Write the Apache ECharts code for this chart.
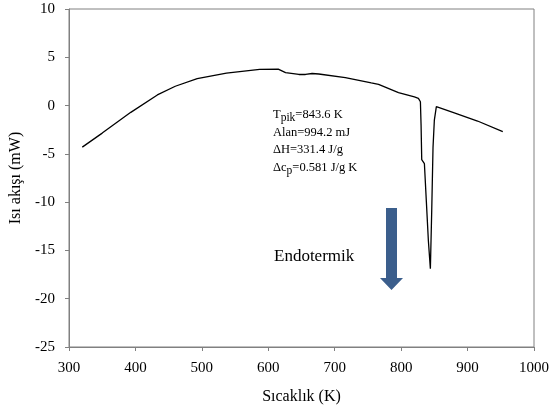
<!DOCTYPE html>
<html>
<head>
	<meta charset="utf-8">
	<script src="https://cdn.jsdelivr.net/npm/echarts@6/dist/echarts.min.js"></script>
</head>
<body style="margin:0;">
	<div id="main" style="width:552px;height:412px;"></div>
	<script type="text/javascript">
        // DSC egrisi: sicaklik (K) ve isi akisi (mW)
        var sicaklik = [320, 350, 393, 433, 460, 493, 537, 587, 615, 626, 646, 656, 666, 676, 716, 755, 766, 796, 820, 826, 829, 830, 831, 835, 838, 841, 844, 846, 848, 850, 853, 880, 915, 953];
        var isiAkisi = [-4.3, -2.85, -0.7, 1.1, 2.0, 2.8, 3.35, 3.75, 3.78, 3.42, 3.22, 3.22, 3.32, 3.27, 2.9, 2.35, 2.2, 1.35, 0.9, 0.75, 0.4, -2.0, -5.6, -6.0, -10.0, -14.0, -16.9, -11.0, -4.3, -1.5, -0.1, -0.75, -1.6, -2.7];
        var xTicks = [300, 1000, 100];
        var yTicks = [-25, 10, 5];

        var veri = sicaklik.map(function (t, i) { return [t, isiAkisi[i]]; });
        var font = 'Liberation Serif';

        var myChart = echarts.init(document.getElementById('main'));
        var option = {
        	animation: false,
        	grid: {
        		left: 68, right: 15, top: 9, bottom: 65,
        		show: true, borderColor: '#808080', borderWidth: 1
        	},
        	xAxis: {
        		type: 'value',
        		min: xTicks[0], max: xTicks[1], interval: xTicks[2],
        		name: 'Sıcaklık (K)', nameLocation: 'middle', nameGap: 42,
        		nameTextStyle: { fontFamily: font, fontSize: 16, color: '#000' },
        		axisLine: { onZero: false, lineStyle: { color: '#808080' } },
        		axisTick: { show: true, length: 4, lineStyle: { color: '#808080' } },
        		axisLabel: { fontFamily: font, fontSize: 15, color: '#000', margin: 14,
        			formatter: function (v) { return String(v); } },
        		splitLine: { show: false }
        	},
        	yAxis: {
        		type: 'value',
        		min: yTicks[0], max: yTicks[1], interval: yTicks[2],
        		name: 'Isı akışı (mW)', nameLocation: 'middle', nameGap: 45,
        		nameTextStyle: { fontFamily: font, fontSize: 16, color: '#000' },
        		axisLine: { show: true, lineStyle: { color: '#808080' } },
        		axisTick: { show: true, length: 4, lineStyle: { color: '#808080' } },
        		axisLabel: { fontFamily: font, fontSize: 15, color: '#000', margin: 14 },
        		splitLine: { show: false }
        	},
        	series: [{
        		type: 'line',
        		data: veri,
        		showSymbol: false,
        		lineStyle: { color: '#000', width: 1.3 }
        	}],
        	graphic: [
        		{
        			type: 'text', left: 273, top: 106,
        			style: {
        				text: '{n|T}{s|pik}{n|=843.6 K}\n{n|Alan=994.2 mJ}\n{n|ΔH=331.4 J/g}\n{n|Δc}{s|p}{n|=0.581 J/g K}',
        				rich: {
        					n: { fontFamily: font, fontSize: 12.5, fill: '#000', lineHeight: 17.5 },
        					s: { fontFamily: font, fontSize: 11.5, fill: '#000', lineHeight: 17.5, padding: [6, 0, 0, 0] }
        				}
        			}
        		},
        		{
        			type: 'text', left: 274, top: 248,
        			style: { text: 'Endotermik', fontFamily: font, fontSize: 17, fill: '#000' }
        		},
        		{
        			type: 'polygon',
        			shape: { points: [[386, 208], [397, 208], [397, 278], [403, 278], [391.5, 290], [380, 278], [386, 278]] },
        			style: { fill: '#3b5e8c' }
        		}
        	]
        };
        myChart.setOption(option);
    </script>
</body>
</html>
